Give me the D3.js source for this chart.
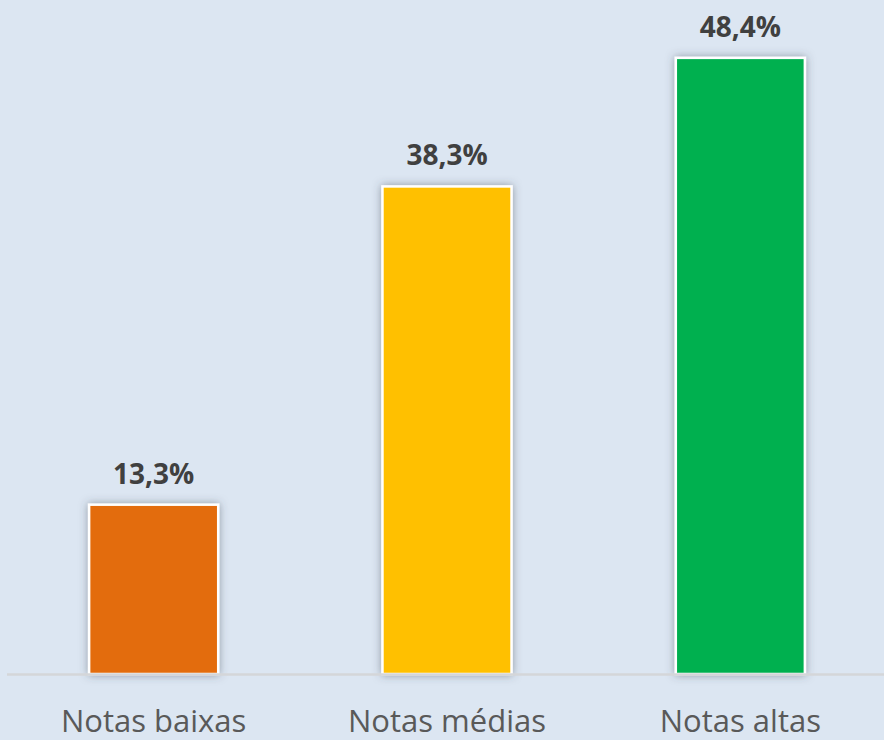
<!DOCTYPE html>
<html><head><meta charset="utf-8">
<script src="https://cdn.jsdelivr.net/npm/d3@7"></script>
<style>html,body{margin:0;padding:0;background:#dce6f2;}svg{display:block;}</style>
</head><body>
<script>
const categories = ["Notas baixas", "Notas médias", "Notas altas"];
const values = [13.3, 38.3, 48.4];
const valueLabels = ["13,3%", "38,3%", "48,4%"];
const colors = ["#e36c0a", "#ffc000", "#00b050"];

const W = 884, H = 740;
const svg = d3.select("body").append("svg").attr("width", W).attr("height", H);
svg.append("rect").attr("width", W).attr("height", H).attr("fill", "#dce6f2");

const defs = svg.append("defs");
const f = defs.append("filter").attr("id", "sh").attr("x", "-20%").attr("y", "-20%").attr("width", "140%").attr("height", "140%");
f.append("feDropShadow").attr("dx", 0).attr("dy", 0).attr("stdDeviation", 4)
  .attr("flood-color", "#3f4a55").attr("flood-opacity", 0.5);

const baseY = 674;
const x = d3.scaleBand().domain(categories).range([7, 887]).paddingInner(0.56).paddingOuter(0.28);
const y = d3.scaleLinear().domain([0, 50]).range([baseY, baseY - 50 * 12.73]);

svg.append("g").selectAll("rect").data(values).join("rect")
  .attr("x", (d, i) => x(categories[i]))
  .attr("y", d => y(d))
  .attr("width", x.bandwidth())
  .attr("height", d => baseY - y(d))
  .attr("fill", (d, i) => colors[i])
  .attr("stroke", "#ffffff").attr("stroke-width", 2.5)
  .attr("filter", "url(#sh)");

svg.append("line").attr("x1", 7).attr("x2", W).attr("y1", baseY + 0.5).attr("y2", baseY + 0.5)
  .attr("stroke", "#d4d6d9").attr("stroke-width", 2.5);

svg.append("g").selectAll("text").data(values).join("text")
  .attr("x", (d, i) => x(categories[i]) + x.bandwidth() / 2)
  .attr("y", d => y(d) - 21)
  .attr("text-anchor", "middle")
  .attr("font-family", "Open Sans, sans-serif").attr("font-weight", "bold")
  .attr("font-size", 28).attr("fill", "#404040")
  .text((d, i) => valueLabels[i]);

const xAxis = d3.axisBottom(x).tickSize(0).tickPadding(0);
const gx = svg.append("g").attr("transform", `translate(0,${baseY})`).call(xAxis);
gx.select(".domain").remove();
gx.selectAll("text").attr("y", 58).attr("dy", 0)
  .attr("font-family", "Open Sans, sans-serif").attr("font-size", 31).attr("fill", "#595959");
</script>
</body></html>
